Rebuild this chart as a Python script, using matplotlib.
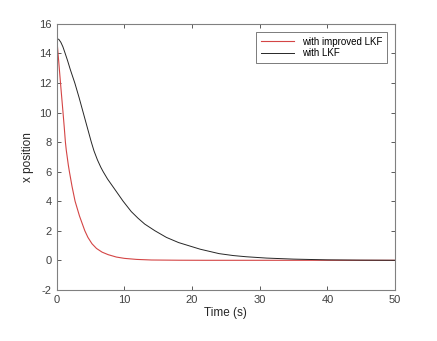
import numpy as np
import matplotlib.pyplot as plt

plt.rcParams['font.family'] = ['Liberation Sans', 'DejaVu Sans']
plt.rcParams['axes.unicode_minus'] = False

# values
t_improved = [0, 0.3, 0.6, 0.9, 1.1, 1.27, 1.4, 1.55, 1.7, 1.86, 2.25, 2.7, 3.35, 4.14, 4.6, 5.2, 5.87, 6.7, 7.6, 8.8, 10.0,
              11.8, 14.0, 18.0, 22.0, 30.0, 40.0, 50.0]
x_improved = [15, 13.35, 11.7, 10.1, 9.0, 8.0, 7.45, 6.95, 6.45, 6.0, 5.0, 4.0, 3.0, 2.0, 1.55, 1.12, 0.8, 0.55, 0.38, 0.22, 0.13,
              0.06, 0.02, 0.005, 0.0, 0.0, 0.0, 0.0]

t_lkf = [0, 0.3, 0.6, 0.9, 1.2, 1.6, 2.0, 2.66, 3.3, 3.9, 4.5, 5.1, 5.5, 6.0, 6.5, 6.85, 7.5, 8.5, 9.8, 11.0, 12.0, 13.0,
         14.5, 16.2, 18.0, 21.2, 24.0, 26.1, 28.0, 31.0, 35.0, 40.0, 45.0, 50.0]
x_lkf = [15, 14.95, 14.75, 14.45, 14.05, 13.5, 12.9, 12, 11, 10, 9, 8, 7.4, 6.8, 6.3, 6.0, 5.5, 4.85, 4.0, 3.3, 2.85, 2.45,
         2.0, 1.55, 1.2, 0.75, 0.45, 0.32, 0.24, 0.15, 0.08, 0.03, 0.01, 0.0]

fig = plt.figure(figsize=(4.37, 3.41), dpi=100)
ax = fig.add_axes([0.130, 0.150, 0.774, 0.780])
ax.plot(t_improved, x_improved, color='#d44545', lw=0.8, label='with improved LKF')
ax.plot(t_lkf, x_lkf, color='#262626', lw=0.7, label='with LKF')

ax.set_xlim(0, 50)
ax.set_ylim(-2, 16)
ax.set_xticks(np.arange(0, 51, 10))
ax.set_yticks(np.arange(-2, 17, 2))
ax.tick_params(direction='in', top=True, right=True, labelsize=8, colors='#404040', length=3, width=0.6)
for s in ax.spines.values():
    s.set_color('#808080')
    s.set_linewidth(0.8)
ax.set_xlabel('Time (s)', fontsize=8.5, color='#262626', labelpad=2)
ax.set_ylabel('x position', fontsize=8.5, color='#262626', labelpad=4)

leg = ax.legend(loc='upper right', fontsize=7, frameon=True, fancybox=False, borderpad=0.5,
                handlelength=3.4, labelspacing=0.2, borderaxespad=0.8)
leg.get_frame().set_edgecolor('#404040')
leg.get_frame().set_linewidth(0.6)

fig.savefig('out.png', dpi=100)
